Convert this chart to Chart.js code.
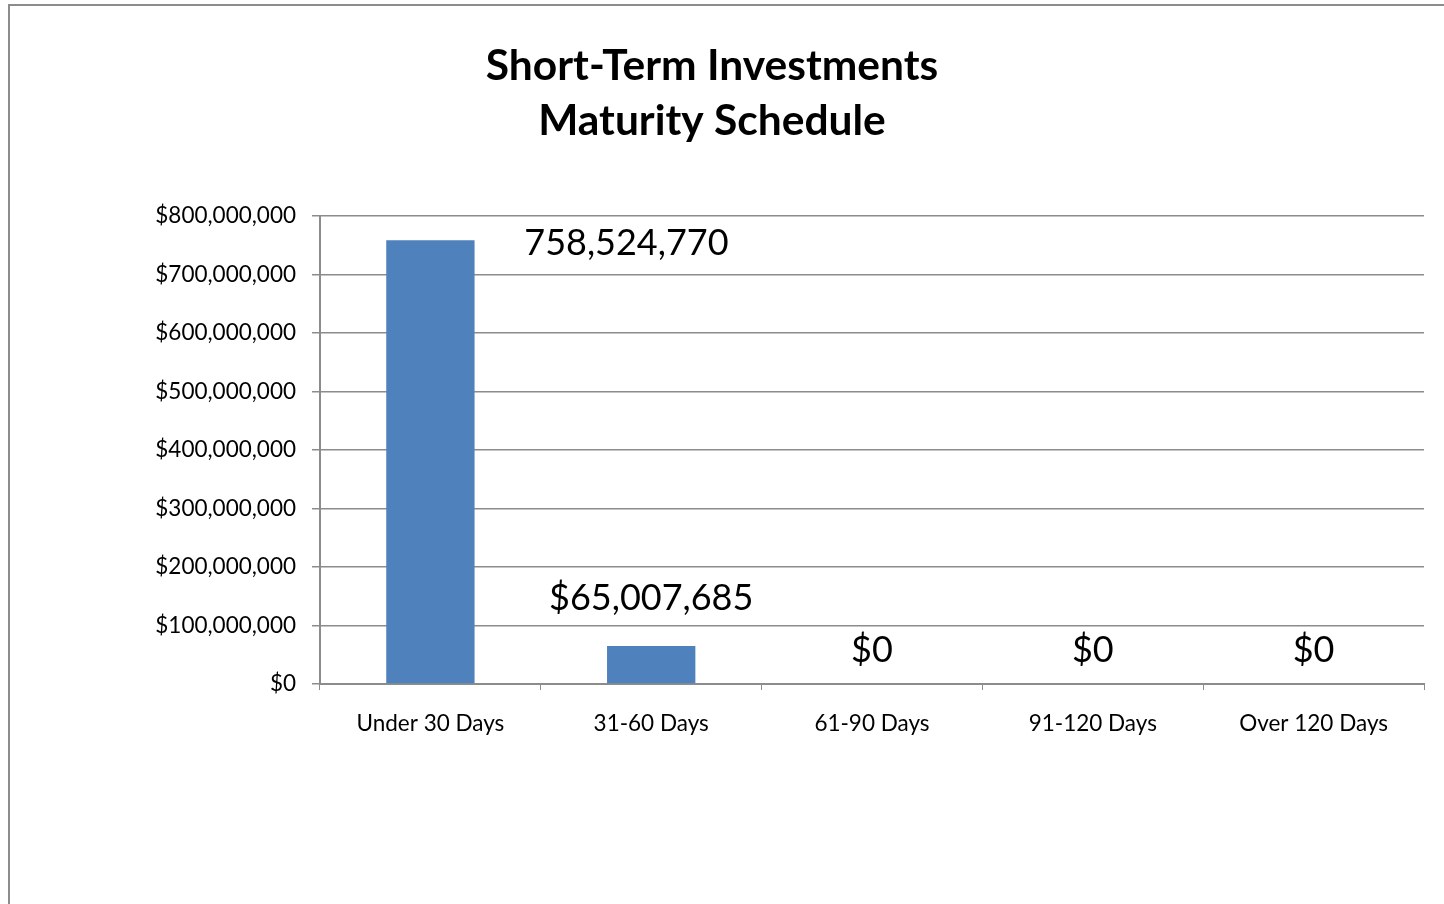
<!DOCTYPE html>
<html>
<head>
<meta charset="utf-8">
<title>Short-Term Investments Maturity Schedule</title>
<script src="https://cdn.jsdelivr.net/npm/chart.js@4"></script>
<style>
    html, body { margin: 0; padding: 0; background: #fff; overflow: hidden; }
    #moldura {
        position: absolute; left: 8px; top: 4px;
        width: 1600px; height: 1000px;
        border: 2px solid #8c8c8c;
    }
    #caixa { position: absolute; left: 0; top: 0; width: 1426px; height: 904px; }
</style>
</head>
<body>
<div id="moldura"></div>
<div id="caixa"><canvas id="grafico"></canvas></div>
<script>
const categorias = ['Under 30 Days', '31-60 Days', '61-90 Days', '91-120 Days', 'Over 120 Days'];
const valores = [758524770, 65007685, 0, 0, 0];
const rotulos = ['758,524,770', '$65,007,685', '$0', '$0', '$0'];
const tituloLinhas = ['Short-Term Investments', 'Maturity Schedule'];
const eixoMax = 800000000;
const eixoPasso = 100000000;

function formatarMoeda(valor) {
    return '$' + valor.toLocaleString('en-US');
}

// 🔹 rótulos dos valores (posição ajustada como no original)
const deslocRotulos = [
    { dx: 196, dy: 15 },
    { dx: 0, dy: -36 },
    { dx: 0, dy: -22 },
    { dx: 0, dy: -22 },
    { dx: 0, dy: -22 }
];

const pluginRotulos = {
    id: 'rotulos',
    afterDatasetsDraw(chart) {
        const ctx = chart.ctx;
        const meta = chart.getDatasetMeta(0);
        ctx.save();
        ctx.font = '36px Lato';
        ctx.fillStyle = '#000';
        ctx.textAlign = 'center';
        ctx.textBaseline = 'alphabetic';
        meta.data.forEach((barra, i) => {
            const d = deslocRotulos[i];
            ctx.fillText(rotulos[i], barra.x + d.dx, barra.y + d.dy);
        });
        ctx.restore();
    }
};

const ctx = document.getElementById('grafico').getContext('2d');

new Chart(ctx, {
    type: 'bar',
    data: {
        labels: categorias,
        datasets: [{
            data: valores,
            backgroundColor: '#4f81bd',
            borderWidth: 0,
            barPercentage: 0.4,
            categoryPercentage: 1
        }]
    },
    options: {
        responsive: true,
        maintainAspectRatio: false,
        animation: false,
        layout: { padding: { left: 0, right: 2, top: 0, bottom: 0 } },
        plugins: {
            legend: { display: false },
            tooltip: { enabled: false },
            title: {
                display: true,
                text: tituloLinhas,
                color: '#000',
                font: { family: 'Lato', size: 42.5, weight: 'bold', lineHeight: 1.294 },
                padding: { top: 38.5, bottom: 67.5 }
            }
        },
        scales: {
            x: {
                grid: {
                    offset: true,
                    drawOnChartArea: false,
                    drawTicks: true,
                    tickLength: 6,
                    color: '#8c8c8c'
                },
                border: { color: '#8c8c8c', width: 2 },
                ticks: {
                    color: '#000',
                    font: { family: 'Lato', size: 22.5 },
                    padding: 20
                },
                afterFit(escala) { escala.height = 220; }
            },
            y: {
                min: 0,
                max: eixoMax,
                grid: {
                    color: '#8c8c8c',
                    lineWidth: 1.5,
                    drawTicks: true,
                    tickLength: 8
                },
                border: { color: '#8c8c8c', width: 2 },
                ticks: {
                    stepSize: eixoPasso,
                    color: '#000',
                    font: { family: 'Lato', size: 22.5 },
                    padding: 16,
                    callback: (v) => formatarMoeda(v)
                },
                afterFit(escala) { escala.width = 320; }
            }
        }
    },
    plugins: [pluginRotulos]
});
</script>
</body>
</html>
